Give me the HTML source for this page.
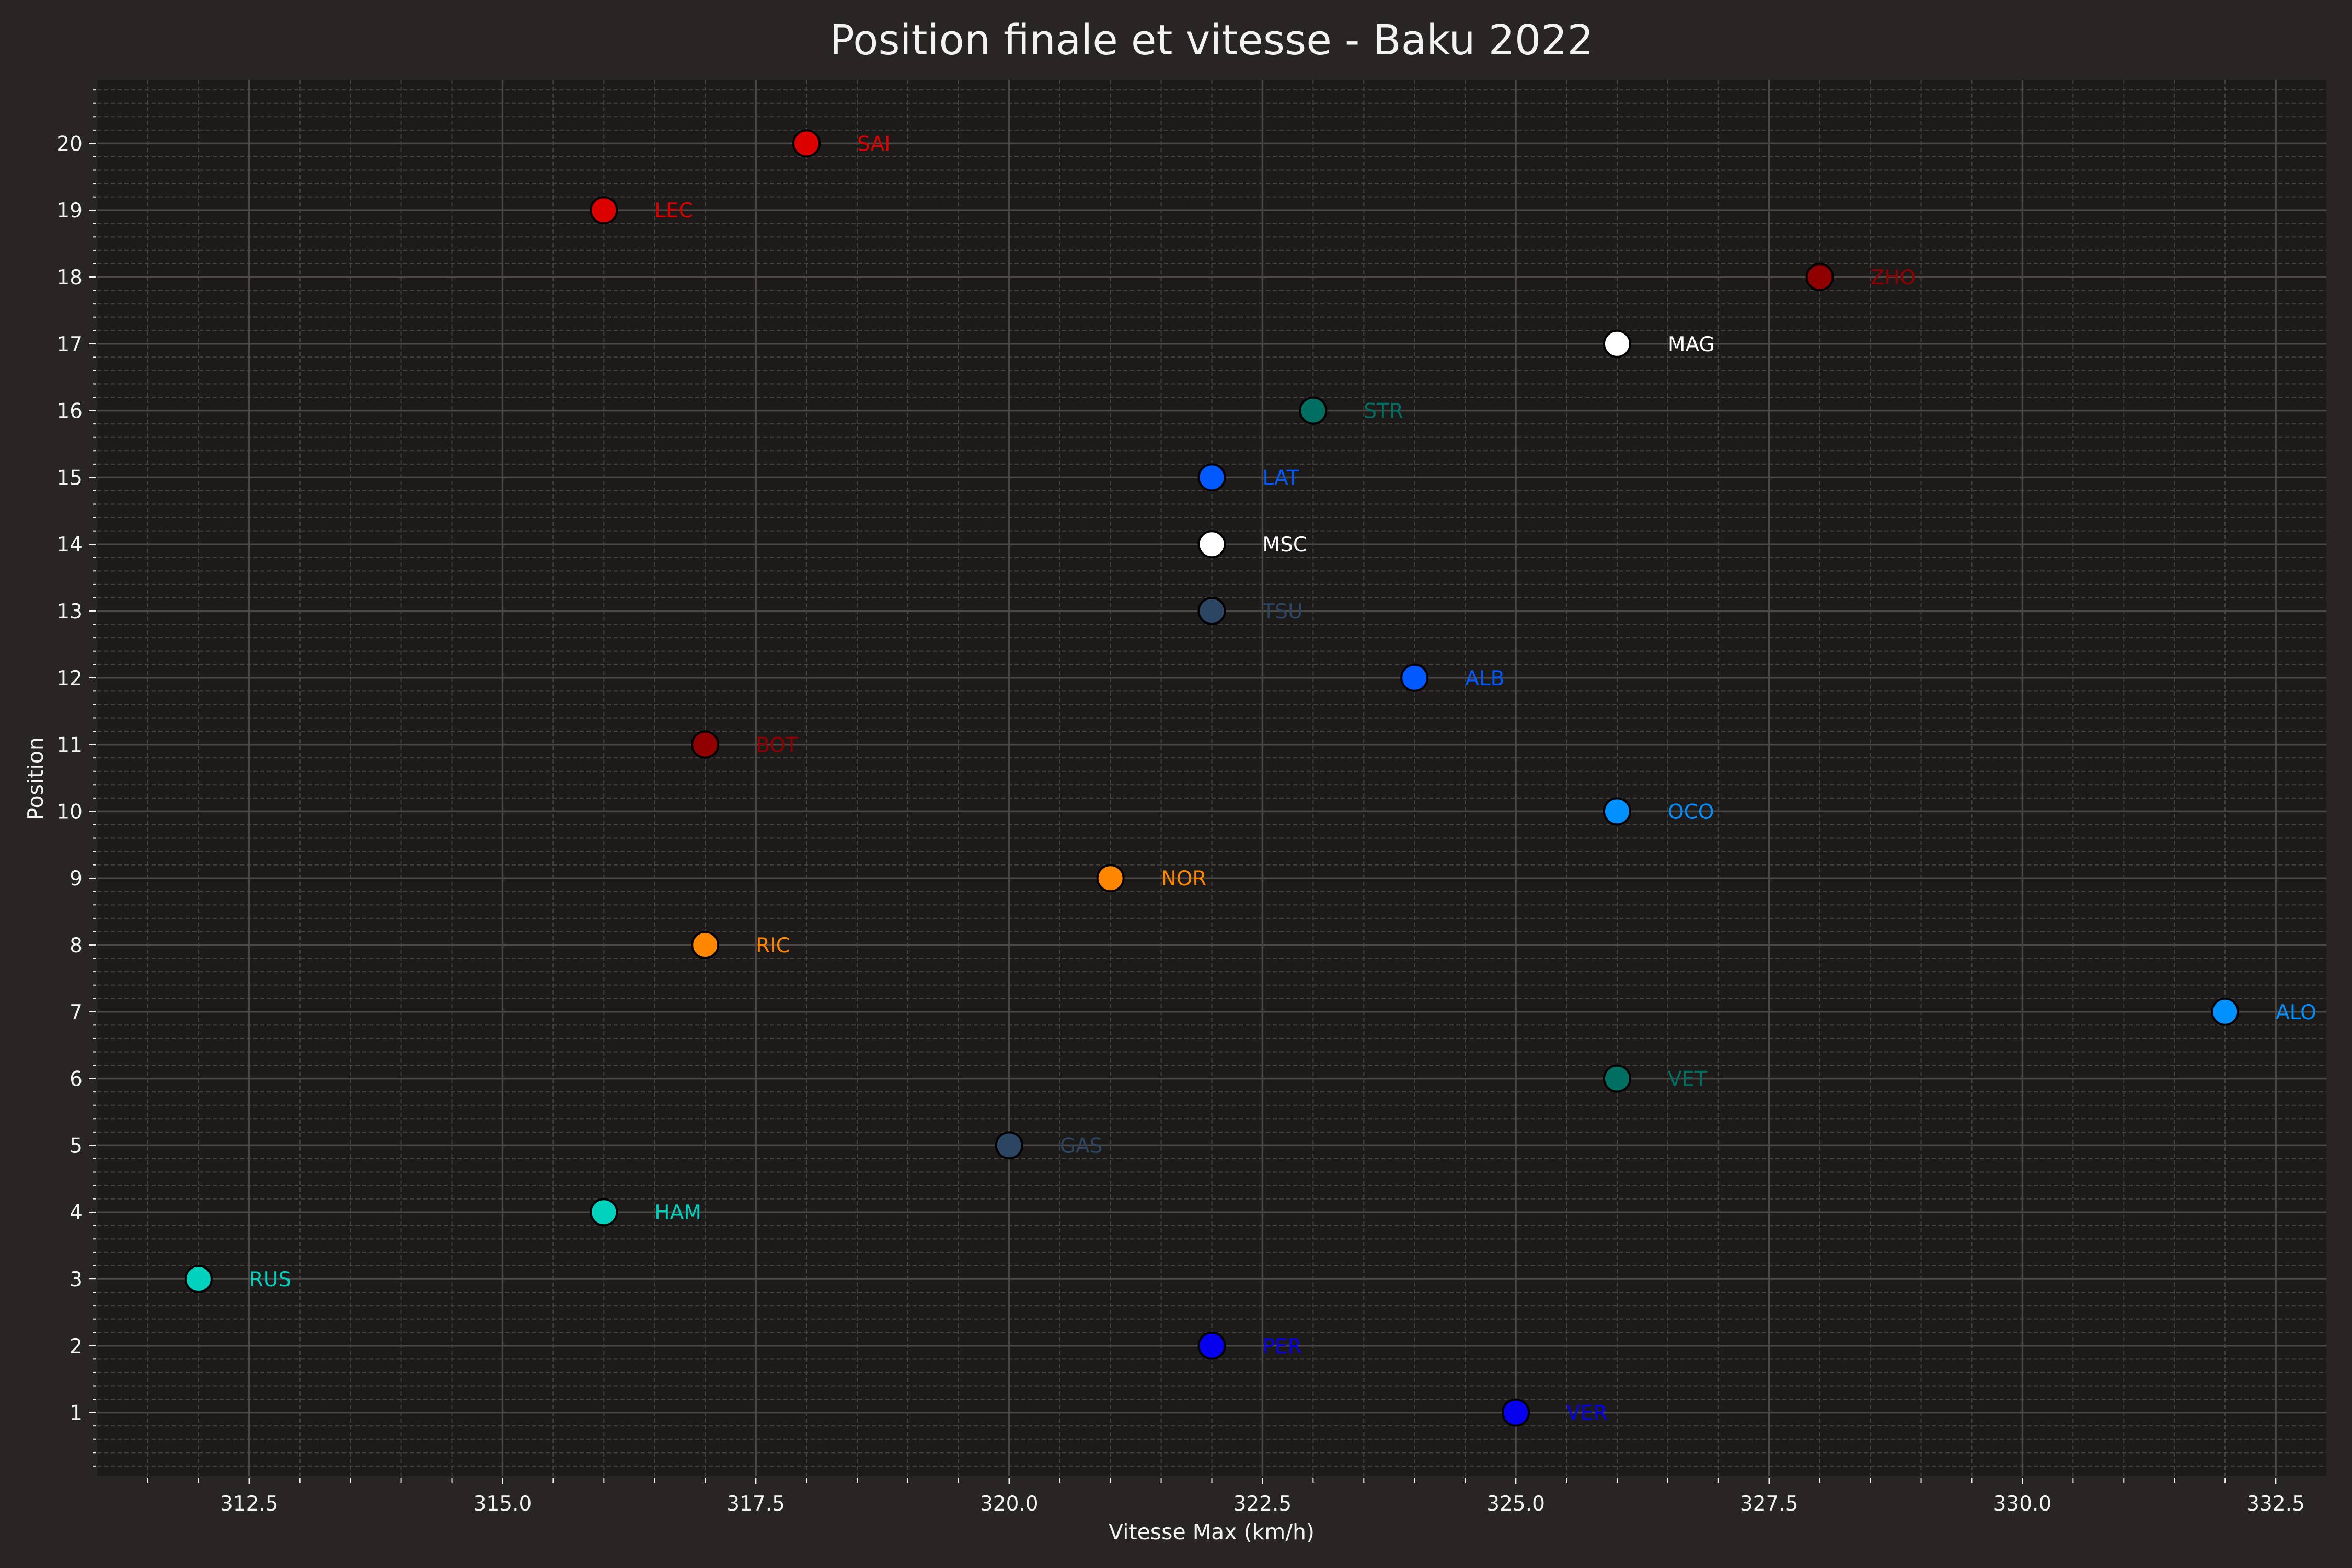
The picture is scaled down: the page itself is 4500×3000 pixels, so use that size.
<!DOCTYPE html>
<html><head><meta charset="utf-8"><style>
html,body{margin:0;padding:0;background:#282524;}
svg{display:block;font-family:"DejaVu Sans","Liberation Sans",sans-serif;}
</style></head><body>
<svg id="chart" xmlns="http://www.w3.org/2000/svg" width="4500" height="3000" viewBox="0 0 4500 3000">
<rect width="4500" height="3000" fill="#282524"/>
<text x="2318" y="104" text-anchor="middle" font-size="79" fill="#f2f2f2">Position finale et vitesse - Baku 2022</text>
<rect x="186" y="153" width="4265" height="2671" fill="#1c1b1a"/>
<g id="grid"></g>
<g id="axes"></g>
<g id="marks"></g>
<text x="2318" y="2945" text-anchor="middle" font-size="41" fill="#f2f2f2">Vitesse Max (km/h)</text>
<text x="0" y="0" transform="translate(82,1490) rotate(-90)" text-anchor="middle" font-size="41" fill="#f2f2f2">Position</text>
</svg>
<script>
const drivers = ["VER","PER","RUS","HAM","GAS","VET","ALO","RIC","NOR","OCO","BOT","ALB","TSU","MSC","LAT","STR","MAG","ZHO","LEC","SAI"];
const speeds = [325,322,312,316,320,326,332,317,321,326,317,324,322,322,322,323,326,328,316,318];
const positions = [1,2,3,4,5,6,7,8,9,10,11,12,13,14,15,16,17,18,19,20];
const colors = ["#0600ef","#0600ef","#00d2be","#00d2be","#2b4562","#006f62","#0090ff","#ff8700","#ff8700","#0090ff","#900000","#005aff","#2b4562","#ffffff","#005aff","#006f62","#ffffff","#900000","#dc0000","#dc0000"];
const xTicks = [312.5,315.0,317.5,320.0,322.5,325.0,327.5,330.0,332.5];
const yTicks = [1,2,3,4,5,6,7,8,9,10,11,12,13,14,15,16,17,18,19,20];
const X0=186,X1=4451,Y0=2824,Y1=153, xmin=311,xmax=333,ymin=0.05,ymax=20.95;
const sx=v=>X0+(v-xmin)/(xmax-xmin)*(X1-X0);
const sy=v=>Y0-(v-ymin)/(ymax-ymin)*(Y0-Y1);
const NS="http://www.w3.org/2000/svg";
function mk(tag,attrs,parent){const e=document.createElementNS(NS,tag);for(const k in attrs)e.setAttribute(k,attrs[k]);parent.appendChild(e);return e;}
const grid=document.getElementById('grid'),axes=document.getElementById('axes'),marks=document.getElementById('marks');
for(let v=311.5;v<333;v+=0.5){const x=sx(v);
 const l=mk('line',{x1:x,x2:x,y1:Y1,y2:Y0,stroke:'#474240','stroke-width':2,'stroke-dasharray':'8,5'},grid);
 
 const t=mk('line',{x1:x,x2:x,y1:Y0+3,y2:Y0+13,stroke:'#f2f2f2','stroke-width':2},axes);
 }
for(let i=1;i<=104;i++){const v=i*0.2;if(v>=ymax)break;const y=sy(v);
 const l=mk('line',{x1:X0,x2:X1,y1:y,y2:y,stroke:'#474240','stroke-width':2,'stroke-dasharray':'8,5'},grid);
 
 const t=mk('line',{x1:X0-3,x2:X0-9,y1:y,y2:y,stroke:'#f2f2f2','stroke-width':2},axes);
 }
xTicks.forEach(v=>{const x=sx(v);
 const l=mk('line',{x1:x,x2:x,y1:Y1,y2:Y0,stroke:'#4e4845','stroke-width':3.5},grid);
 
 const t=mk('line',{x1:x,x2:x,y1:Y0+3,y2:Y0+16,stroke:'#f2f2f2','stroke-width':2.5},axes);
 
 const tx=mk('text',{x:x,y:Y0+66,'text-anchor':'middle','font-size':39,fill:'#f2f2f2'},axes);tx.textContent=v.toFixed(1);
 });
yTicks.forEach(v=>{const y=sy(v);
 const l=mk('line',{x1:X0,x2:X1,y1:y,y2:y,stroke:'#4e4845','stroke-width':3.5},grid);
 
 const t=mk('line',{x1:X0-3,x2:X0-16,y1:y,y2:y,stroke:'#f2f2f2','stroke-width':2.5},axes);
 
 const tx=mk('text',{x:X0-28,y:y+14,'text-anchor':'end','font-size':39,fill:'#f2f2f2'},axes);tx.textContent=v;
 });
drivers.forEach((d,i)=>{const x=sx(speeds[i]),y=sy(positions[i]);
 const c=mk('circle',{cx:x,cy:y,r:25,fill:colors[i],stroke:'#000','stroke-width':4},marks);
 
 const t=mk('text',{x:sx(speeds[i]+0.5),y:y+14,'font-size':39,fill:colors[i]},marks);t.textContent=d;
 });
</script>
</body></html>
